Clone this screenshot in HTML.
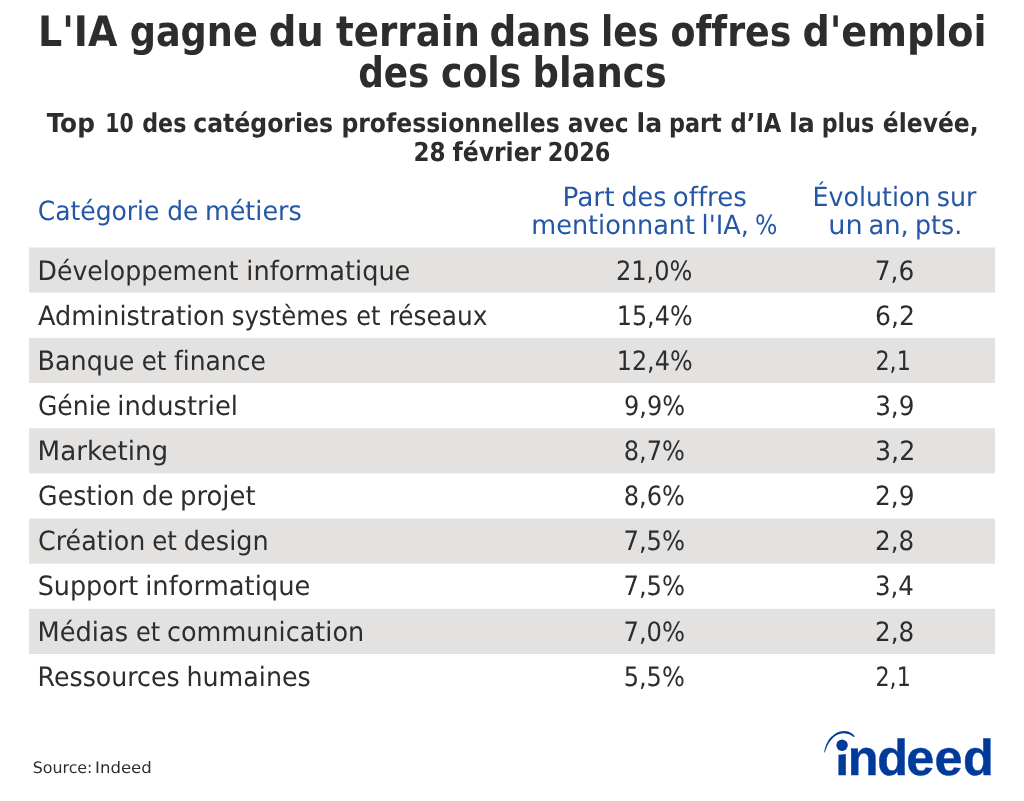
<!DOCTYPE html>
<html lang="fr"><head><meta charset="utf-8"><title>L'IA gagne du terrain dans les offres d'emploi des cols blancs</title>
<style>html,body{margin:0;padding:0;background:#fff;overflow:hidden}svg{display:block}text{white-space:pre;text-rendering:geometricPrecision;font-variant-ligatures:none}</style></head><body>
<svg width="1024" height="801" viewBox="0 0 1024 801">
<rect width="1024" height="801" fill="#fff"/>
<rect x="29.1" y="247.50" width="965.9" height="45.17" fill="#e4e2e0"/>
<rect x="29.1" y="337.84" width="965.9" height="45.17" fill="#e4e2e0"/>
<rect x="29.1" y="428.18" width="965.9" height="45.17" fill="#e4e2e0"/>
<rect x="29.1" y="518.52" width="965.9" height="45.17" fill="#e4e2e0"/>
<rect x="29.1" y="608.86" width="965.9" height="45.17" fill="#e4e2e0"/>
<text y="46" font-family="'DejaVu Sans Condensed','DejaVu Sans','Liberation Sans',sans-serif" font-size="42.0" font-weight="700" fill="#2d2d2d"><tspan x="37.92" textLength="79.42" lengthAdjust="spacingAndGlyphs">L'IA</tspan> <tspan x="129.68" textLength="128.10" lengthAdjust="spacingAndGlyphs">gagne</tspan> <tspan x="268.71" textLength="55.17" lengthAdjust="spacingAndGlyphs">du</tspan> <tspan x="336.08" textLength="143.82" lengthAdjust="spacingAndGlyphs">terrain</tspan> <tspan x="489.46" textLength="100.82" lengthAdjust="spacingAndGlyphs">dans</tspan> <tspan x="600.92" textLength="58.06" lengthAdjust="spacingAndGlyphs">les</tspan> <tspan x="670.54" textLength="120.86" lengthAdjust="spacingAndGlyphs">offres</tspan> <tspan x="802.41" textLength="184.19" lengthAdjust="spacingAndGlyphs">d'emploi</tspan></text>
<text y="87" font-family="'DejaVu Sans Condensed','DejaVu Sans','Liberation Sans',sans-serif" font-size="42.0" font-weight="700" fill="#2d2d2d"><tspan x="358.23" textLength="71.20" lengthAdjust="spacingAndGlyphs">des</tspan> <tspan x="441.02" textLength="80.24" lengthAdjust="spacingAndGlyphs">cols</tspan> <tspan x="532.49" textLength="134.26" lengthAdjust="spacingAndGlyphs">blancs</tspan></text>
<text y="132" font-family="'DejaVu Sans Condensed','DejaVu Sans','Liberation Sans',sans-serif" font-size="26.1" font-weight="700" fill="#2d2d2d"><tspan x="46.88" textLength="48.01" lengthAdjust="spacingAndGlyphs">Top</tspan> <tspan x="105.20" textLength="28.44" lengthAdjust="spacingAndGlyphs">10</tspan> <tspan x="142.22" textLength="44.18" lengthAdjust="spacingAndGlyphs">des</tspan> <tspan x="193.17" textLength="139.95" lengthAdjust="spacingAndGlyphs">catégories</tspan> <tspan x="341.44" textLength="218.29" lengthAdjust="spacingAndGlyphs">professionnelles</tspan> <tspan x="567.72" textLength="60.79" lengthAdjust="spacingAndGlyphs">avec</tspan> <tspan x="636.57" textLength="25.59" lengthAdjust="spacingAndGlyphs">la</tspan> <tspan x="669.03" textLength="52.77" lengthAdjust="spacingAndGlyphs">part</tspan> <tspan x="730.62" textLength="50.77" lengthAdjust="spacingAndGlyphs">d’IA</tspan> <tspan x="789.02" textLength="25.67" lengthAdjust="spacingAndGlyphs">la</tspan> <tspan x="821.71" textLength="52.40" lengthAdjust="spacingAndGlyphs">plus</tspan> <tspan x="882.86" textLength="95.71" lengthAdjust="spacingAndGlyphs">élevée,</tspan></text>
<text y="161" font-family="'DejaVu Sans Condensed','DejaVu Sans','Liberation Sans',sans-serif" font-size="26.1" font-weight="700" fill="#2d2d2d"><tspan x="413.54" textLength="32.12" lengthAdjust="spacingAndGlyphs">28</tspan> <tspan x="452.44" textLength="88.80" lengthAdjust="spacingAndGlyphs">février</tspan> <tspan x="547.87" textLength="62.59" lengthAdjust="spacingAndGlyphs">2026</tspan></text>
<text y="220" font-family="'DejaVu Sans','Liberation Sans',sans-serif" font-size="26.5" font-weight="400" fill="#2557a7"><tspan x="37.68" textLength="121.74" lengthAdjust="spacingAndGlyphs">Catégorie</tspan> <tspan x="167.32" textLength="31.07" lengthAdjust="spacingAndGlyphs">de</tspan> <tspan x="204.88" textLength="96.92" lengthAdjust="spacingAndGlyphs">métiers</tspan></text>
<text y="206" font-family="'DejaVu Sans','Liberation Sans',sans-serif" font-size="26.5" font-weight="400" fill="#2557a7"><tspan x="562.43" textLength="52.17" lengthAdjust="spacingAndGlyphs">Part</tspan> <tspan x="621.47" textLength="44.86" lengthAdjust="spacingAndGlyphs">des</tspan> <tspan x="672.87" textLength="73.93" lengthAdjust="spacingAndGlyphs">offres</tspan></text>
<text y="234" font-family="'DejaVu Sans','Liberation Sans',sans-serif" font-size="26.5" font-weight="400" fill="#2557a7"><tspan x="531.31" textLength="163.75" lengthAdjust="spacingAndGlyphs">mentionnant</tspan> <tspan x="701.62" textLength="47.16" lengthAdjust="spacingAndGlyphs">l'IA,</tspan> <tspan x="754.99" textLength="22.41" lengthAdjust="spacingAndGlyphs">%</tspan></text>
<text y="206" font-family="'DejaVu Sans','Liberation Sans',sans-serif" font-size="26.5" font-weight="400" fill="#2557a7"><tspan x="812.44" textLength="118.00" lengthAdjust="spacingAndGlyphs">Évolution</tspan> <tspan x="936.84" textLength="39.67" lengthAdjust="spacingAndGlyphs">sur</tspan></text>
<text y="234" font-family="'DejaVu Sans','Liberation Sans',sans-serif" font-size="26.5" font-weight="400" fill="#2557a7"><tspan x="828.23" textLength="34.37" lengthAdjust="spacingAndGlyphs">un</tspan> <tspan x="868.41" textLength="40.30" lengthAdjust="spacingAndGlyphs">an,</tspan> <tspan x="915.09" textLength="47.10" lengthAdjust="spacingAndGlyphs">pts.</tspan></text>
<text y="773" font-family="'DejaVu Sans','Liberation Sans',sans-serif" font-size="15.8" font-weight="400" fill="#2d2d2d"><tspan x="32.78" textLength="59.64" lengthAdjust="spacingAndGlyphs">Source:</tspan> <tspan x="95.09" textLength="56.67" lengthAdjust="spacingAndGlyphs">Indeed</tspan></text>
<text y="280" font-family="'DejaVu Sans','Liberation Sans',sans-serif" font-size="26.6" font-weight="400" fill="#2d2d2d"><tspan x="37.55" textLength="200.89" lengthAdjust="spacingAndGlyphs">Développement</tspan> <tspan x="246.30" textLength="164.07" lengthAdjust="spacingAndGlyphs">informatique</tspan></text>
<text y="280" font-family="'DejaVu Sans','Liberation Sans',sans-serif" font-size="26.6" font-weight="400" fill="#2d2d2d"><tspan x="615.99" textLength="76.47" lengthAdjust="spacingAndGlyphs">21,0%</tspan></text>
<text y="280" font-family="'DejaVu Sans','Liberation Sans',sans-serif" font-size="26.6" font-weight="400" fill="#2d2d2d"><tspan x="874.82" textLength="39.45" lengthAdjust="spacingAndGlyphs">7,6</tspan></text>
<text y="325" font-family="'DejaVu Sans','Liberation Sans',sans-serif" font-size="26.6" font-weight="400" fill="#2d2d2d"><tspan x="38.03" textLength="186.91" lengthAdjust="spacingAndGlyphs">Administration</tspan> <tspan x="231.63" textLength="116.28" lengthAdjust="spacingAndGlyphs">systèmes</tspan> <tspan x="356.30" textLength="24.19" lengthAdjust="spacingAndGlyphs">et</tspan> <tspan x="388.63" textLength="98.90" lengthAdjust="spacingAndGlyphs">réseaux</tspan></text>
<text y="325" font-family="'DejaVu Sans','Liberation Sans',sans-serif" font-size="26.6" font-weight="400" fill="#2d2d2d"><tspan x="616.76" textLength="75.82" lengthAdjust="spacingAndGlyphs">15,4%</tspan></text>
<text y="325" font-family="'DejaVu Sans','Liberation Sans',sans-serif" font-size="26.6" font-weight="400" fill="#2d2d2d"><tspan x="875.09" textLength="39.99" lengthAdjust="spacingAndGlyphs">6,2</tspan></text>
<text y="370" font-family="'DejaVu Sans','Liberation Sans',sans-serif" font-size="26.6" font-weight="400" fill="#2d2d2d"><tspan x="37.58" textLength="96.90" lengthAdjust="spacingAndGlyphs">Banque</tspan> <tspan x="141.81" textLength="24.67" lengthAdjust="spacingAndGlyphs">et</tspan> <tspan x="173.96" textLength="91.83" lengthAdjust="spacingAndGlyphs">finance</tspan></text>
<text y="370" font-family="'DejaVu Sans','Liberation Sans',sans-serif" font-size="26.6" font-weight="400" fill="#2d2d2d"><tspan x="616.76" textLength="75.82" lengthAdjust="spacingAndGlyphs">12,4%</tspan></text>
<text y="370" font-family="'DejaVu Sans','Liberation Sans',sans-serif" font-size="26.6" font-weight="400" fill="#2d2d2d"><tspan x="875.42" textLength="35.40" lengthAdjust="spacingAndGlyphs">2,1</tspan></text>
<text y="415" font-family="'DejaVu Sans','Liberation Sans',sans-serif" font-size="26.6" font-weight="400" fill="#2d2d2d"><tspan x="37.89" textLength="73.18" lengthAdjust="spacingAndGlyphs">Génie</tspan> <tspan x="117.24" textLength="120.74" lengthAdjust="spacingAndGlyphs">industriel</tspan></text>
<text y="415" font-family="'DejaVu Sans','Liberation Sans',sans-serif" font-size="26.6" font-weight="400" fill="#2d2d2d"><tspan x="623.99" textLength="61.04" lengthAdjust="spacingAndGlyphs">9,9%</tspan></text>
<text y="415" font-family="'DejaVu Sans','Liberation Sans',sans-serif" font-size="26.6" font-weight="400" fill="#2d2d2d"><tspan x="875.13" textLength="39.32" lengthAdjust="spacingAndGlyphs">3,9</tspan></text>
<text y="460" font-family="'DejaVu Sans','Liberation Sans',sans-serif" font-size="26.6" font-weight="400" fill="#2d2d2d"><tspan x="37.60" textLength="130.64" lengthAdjust="spacingAndGlyphs">Marketing</tspan></text>
<text y="460" font-family="'DejaVu Sans','Liberation Sans',sans-serif" font-size="26.6" font-weight="400" fill="#2d2d2d"><tspan x="623.76" textLength="61.22" lengthAdjust="spacingAndGlyphs">8,7%</tspan></text>
<text y="460" font-family="'DejaVu Sans','Liberation Sans',sans-serif" font-size="26.6" font-weight="400" fill="#2d2d2d"><tspan x="875.03" textLength="40.22" lengthAdjust="spacingAndGlyphs">3,2</tspan></text>
<text y="505" font-family="'DejaVu Sans','Liberation Sans',sans-serif" font-size="26.6" font-weight="400" fill="#2d2d2d"><tspan x="38.12" textLength="96.57" lengthAdjust="spacingAndGlyphs">Gestion</tspan> <tspan x="141.90" textLength="31.56" lengthAdjust="spacingAndGlyphs">de</tspan> <tspan x="179.98" textLength="75.62" lengthAdjust="spacingAndGlyphs">projet</tspan></text>
<text y="505" font-family="'DejaVu Sans','Liberation Sans',sans-serif" font-size="26.6" font-weight="400" fill="#2d2d2d"><tspan x="623.76" textLength="61.22" lengthAdjust="spacingAndGlyphs">8,6%</tspan></text>
<text y="505" font-family="'DejaVu Sans','Liberation Sans',sans-serif" font-size="26.6" font-weight="400" fill="#2d2d2d"><tspan x="875.03" textLength="39.52" lengthAdjust="spacingAndGlyphs">2,9</tspan></text>
<text y="550" font-family="'DejaVu Sans','Liberation Sans',sans-serif" font-size="26.6" font-weight="400" fill="#2d2d2d"><tspan x="38.09" textLength="107.15" lengthAdjust="spacingAndGlyphs">Création</tspan> <tspan x="152.15" textLength="24.65" lengthAdjust="spacingAndGlyphs">et</tspan> <tspan x="183.85" textLength="84.86" lengthAdjust="spacingAndGlyphs">design</tspan></text>
<text y="550" font-family="'DejaVu Sans','Liberation Sans',sans-serif" font-size="26.6" font-weight="400" fill="#2d2d2d"><tspan x="623.46" textLength="61.62" lengthAdjust="spacingAndGlyphs">7,5%</tspan></text>
<text y="550" font-family="'DejaVu Sans','Liberation Sans',sans-serif" font-size="26.6" font-weight="400" fill="#2d2d2d"><tspan x="875.03" textLength="39.20" lengthAdjust="spacingAndGlyphs">2,8</tspan></text>
<text y="595" font-family="'DejaVu Sans','Liberation Sans',sans-serif" font-size="26.6" font-weight="400" fill="#2d2d2d"><tspan x="37.70" textLength="100.48" lengthAdjust="spacingAndGlyphs">Support</tspan> <tspan x="145.18" textLength="165.19" lengthAdjust="spacingAndGlyphs">informatique</tspan></text>
<text y="595" font-family="'DejaVu Sans','Liberation Sans',sans-serif" font-size="26.6" font-weight="400" fill="#2d2d2d"><tspan x="623.46" textLength="61.62" lengthAdjust="spacingAndGlyphs">7,5%</tspan></text>
<text y="595" font-family="'DejaVu Sans','Liberation Sans',sans-serif" font-size="26.6" font-weight="400" fill="#2d2d2d"><tspan x="875.03" textLength="38.91" lengthAdjust="spacingAndGlyphs">3,4</tspan></text>
<text y="641" font-family="'DejaVu Sans','Liberation Sans',sans-serif" font-size="26.6" font-weight="400" fill="#2d2d2d"><tspan x="37.51" textLength="90.63" lengthAdjust="spacingAndGlyphs">Médias</tspan> <tspan x="135.94" textLength="24.21" lengthAdjust="spacingAndGlyphs">et</tspan> <tspan x="166.99" textLength="197.16" lengthAdjust="spacingAndGlyphs">communication</tspan></text>
<text y="641" font-family="'DejaVu Sans','Liberation Sans',sans-serif" font-size="26.6" font-weight="400" fill="#2d2d2d"><tspan x="623.46" textLength="61.62" lengthAdjust="spacingAndGlyphs">7,0%</tspan></text>
<text y="641" font-family="'DejaVu Sans','Liberation Sans',sans-serif" font-size="26.6" font-weight="400" fill="#2d2d2d"><tspan x="875.03" textLength="39.20" lengthAdjust="spacingAndGlyphs">2,8</tspan></text>
<text y="686" font-family="'DejaVu Sans','Liberation Sans',sans-serif" font-size="26.6" font-weight="400" fill="#2d2d2d"><tspan x="37.56" textLength="142.05" lengthAdjust="spacingAndGlyphs">Ressources</tspan> <tspan x="186.39" textLength="124.44" lengthAdjust="spacingAndGlyphs">humaines</tspan></text>
<text y="686" font-family="'DejaVu Sans','Liberation Sans',sans-serif" font-size="26.6" font-weight="400" fill="#2d2d2d"><tspan x="623.63" textLength="61.22" lengthAdjust="spacingAndGlyphs">5,5%</tspan></text>
<text y="686" font-family="'DejaVu Sans','Liberation Sans',sans-serif" font-size="26.6" font-weight="400" fill="#2d2d2d"><tspan x="875.42" textLength="35.40" lengthAdjust="spacingAndGlyphs">2,1</tspan></text>
<g id="logo" fill="#003a9b">
<text x="835.28 847.68 877.2 906.26 934.6 963.0" y="775.1" font-family="'Liberation Sans',sans-serif" font-size="50.4" font-weight="700" stroke="#003a9b" stroke-width="0.4" stroke-linejoin="round">indeed</text>
<path d="M833 735 H849.6 V753.75 L833 755.3 Z" fill="#fff"/>
<circle cx="842.07" cy="745.3" r="5.7"/>
<path d="M824.1 752.56 C824.39 751.38 824.91 747.84 825.86 745.50 C826.81 743.16 828.15 740.52 829.77 738.50 C831.39 736.48 833.85 734.57 835.60 733.40 C837.36 732.23 838.87 731.92 840.30 731.50 C841.73 731.08 842.90 730.90 844.20 730.90 C845.50 730.90 846.80 731.05 848.10 731.50 C849.40 731.95 850.88 732.79 852.00 733.60 C853.12 734.41 854.33 735.89 854.80 736.35 L854.0 737.1 C853.28 736.65 851.33 735.05 849.70 734.40 C848.07 733.75 845.90 733.27 844.20 733.20 C842.50 733.13 840.93 733.57 839.50 734.00 C838.07 734.43 836.97 734.85 835.60 735.80 C834.23 736.75 832.60 738.21 831.30 739.70 C830.00 741.19 828.87 742.67 827.80 744.75 C826.73 746.83 825.38 750.96 824.90 752.20 Z"/>
</g>

</svg></body></html>
